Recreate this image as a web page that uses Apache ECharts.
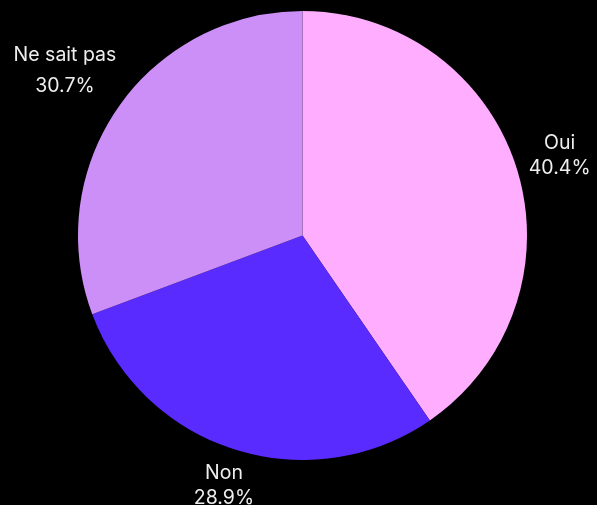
<!DOCTYPE html>
<html>
<head>
<meta charset="utf-8">
<style>
  html, body { margin: 0; padding: 0; background: #000; }
  #chart { width: 597px; height: 505px; }
</style>
<script src="https://cdn.jsdelivr.net/npm/echarts@6/dist/echarts.min.js"></script>
</head>
<body>
<div id="chart"></div>
<script>
// Survey answers and their shares (percent)
const categories = ['Oui', 'Non', 'Ne sait pas'];
const shares = [40.4, 28.9, 30.7];
const sliceColors = ['#FFAEFF', '#5A2BFF', '#CC8FF8'];

const FONT_SIZE = 19.5;
const LINE_HEIGHT = 25;
// Space between the pie rim and the nearest edge of each label's ink box
const LABEL_GAP = 9.5;

// names with descenders get a little more room before the percentage line
const lineHeightFor = name => (/[gjpqy]/.test(name) ? 31 : LINE_HEIGHT);

const chart = echarts.init(document.getElementById('chart'), null, { renderer: 'canvas' });

chart.setOption({
  backgroundColor: '#000000',
  animation: false,
  series: [{
    type: 'pie',
    center: [302.5, 235.5],
    radius: 224.5,
    startAngle: 90,
    clockwise: true,
    avoidLabelOverlap: false,
    data: categories.map((name, i) => ({
      name: name,
      value: shares[i],
      itemStyle: { color: sliceColors[i] },
      label: { lineHeight: lineHeightFor(name) }
    })),
    label: {
      show: true,
      position: 'outside',
      formatter: p => p.name + '\n' + p.value.toFixed(1) + '%',
      color: '#eeeeee',
      fontFamily: 'Inter',
      fontSize: FONT_SIZE,
      lineHeight: LINE_HEIGHT,
      align: 'center'
    },
    // invisible guide lines: only used to know the radial direction of each slice
    labelLine: { show: true, length: 10, length2: 0, lineStyle: { opacity: 0 } },
    labelLayout: function (params) {
      const pts = params.labelLinePoints;
      if (!pts || pts.length < 2) return {};
      let ux = pts[1][0] - pts[0][0];
      let uy = pts[1][1] - pts[0][1];
      const len = Math.hypot(ux, uy) || 1;
      ux /= len; uy /= len;
      // approximate ink box of the two-line label
      const w = params.labelRect.width;
      const h = params.labelRect.height / 2 + 0.73 * FONT_SIZE;
      const dist = LABEL_GAP + Math.abs(ux) * w / 2 + Math.abs(uy) * h / 2;
      return {
        x: pts[0][0] + ux * dist,
        y: pts[0][1] + uy * dist,
        align: 'center',
        verticalAlign: 'middle'
      };
    }
  }]
});
</script>
</body>
</html>
